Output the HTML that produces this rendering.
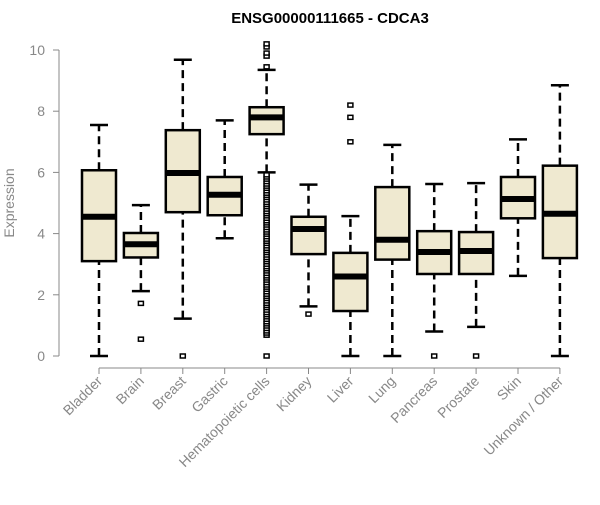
<!DOCTYPE html>
<html><head><meta charset="utf-8"><style>body{margin:0;background:#fff}svg{font-family:"Liberation Sans",Arial,sans-serif}</style></head>
<body>
<svg id="chart" width="600" height="500" xmlns="http://www.w3.org/2000/svg">
<text x="330" y="23" text-anchor="middle" font-size="15" font-weight="bold">ENSG00000111665 - CDCA3</text>
<text transform="translate(14,203) rotate(-90)" text-anchor="middle" font-size="14" fill="#888">Expression</text>
<g id="axes"></g><g id="boxes"></g>
</svg>
<script>
const categories=["Bladder","Brain","Breast","Gastric","Hematopoietic cells","Kidney","Liver","Lung","Pancreas","Prostate","Skin","Unknown / Other"];
const whiskerLow=[0,2.12,1.22,3.85,6.0,1.62,0,0,0.8,0.95,2.62,0];
const q1=[3.1,3.22,4.7,4.6,7.25,3.33,1.47,3.15,2.68,2.68,4.5,3.2];
const medians=[4.55,3.65,5.98,5.27,7.8,4.15,2.6,3.8,3.4,3.43,5.13,4.65];
const q3=[6.07,4.02,7.38,5.85,8.13,4.55,3.37,5.52,4.08,4.05,5.85,6.22];
const whiskerHigh=[7.55,4.93,9.68,7.7,9.35,5.6,4.57,6.9,5.62,5.65,7.08,8.85];
const outliers=[[],[1.72,0.55],[0],[],[0,0.68,0.75,0.82,0.9,0.98,1.05,1.12,1.2,1.28,1.35,1.42,1.5,1.58,1.65,1.72,1.8,1.88,1.95,2.02,2.1,2.18,2.25,2.32,2.4,2.48,2.55,2.62,2.7,2.78,2.85,2.92,3.0,3.08,3.15,3.22,3.3,3.38,3.45,3.52,3.6,3.68,3.75,3.82,3.9,3.98,4.05,4.12,4.2,4.28,4.35,4.42,4.5,4.58,4.65,4.72,4.8,4.88,4.95,5.02,5.1,5.18,5.25,5.32,5.4,5.48,5.55,5.62,5.7,5.78,5.85,5.92,9.45,9.8,9.9,10.1,10.2],[1.37],[7.0,7.8,8.2],[],[0],[0],[],[]];
const yTicks=[0,2,4,6,8,10];
const NS="http://www.w3.org/2000/svg";
const y=v=>356-v*30.6;
const x=i=>99+i*41.9;
function mk(t,a,p){const e=document.createElementNS(NS,t);for(const k in a)e.setAttribute(k,a[k]);p.appendChild(e);return e;}
const ax=document.getElementById('axes'),bx=document.getElementById('boxes');
const yl=mk('line',{x1:59,x2:59,y1:y(0),y2:y(10),stroke:'#888'},ax);

yTicks.forEach(t=>{
 const l=mk('line',{x1:53,x2:59,y1:y(t),y2:y(t),stroke:'#888'},ax);
 
 const tx=mk('text',{x:45,y:y(t)+5,'text-anchor':'end','font-size':14,fill:'#888'},ax);tx.textContent=t;
 
});
const xl=mk('line',{x1:x(0),x2:x(categories.length-1),y1:368,y2:368,stroke:'#888'},ax);

categories.forEach((c,i)=>{
 const cx=x(i);
 const l=mk('line',{x1:cx,x2:cx,y1:368,y2:374,stroke:'#888'},ax);
 
 const tx=mk('text',{x:cx+4,y:382,'text-anchor':'end','font-size':14,fill:'#888',transform:`rotate(-45 ${cx+4} 382)`},ax);tx.textContent=c;
 
 const g=mk('g',{},bx);
 
 mk('line',{x1:cx,x2:cx,y1:y(whiskerLow[i]),y2:y(q1[i]),stroke:'#000','stroke-width':2.5,'stroke-dasharray':'8,5'},g);
 mk('line',{x1:cx,x2:cx,y1:y(q3[i]),y2:y(whiskerHigh[i]),stroke:'#000','stroke-width':2.5,'stroke-dasharray':'8,5'},g);
 mk('line',{x1:cx-9,x2:cx+9,y1:y(whiskerLow[i]),y2:y(whiskerLow[i]),stroke:'#000','stroke-width':2.5},g);
 mk('line',{x1:cx-9,x2:cx+9,y1:y(whiskerHigh[i]),y2:y(whiskerHigh[i]),stroke:'#000','stroke-width':2.5},g);
 mk('rect',{x:cx-17,y:y(q3[i]),width:34,height:y(q1[i])-y(q3[i]),fill:'#efe9d0',stroke:'#000','stroke-width':2.5},g);
 mk('line',{x1:cx-17,x2:cx+17,y1:y(medians[i]),y2:y(medians[i]),stroke:'#000','stroke-width':6},g);
 outliers[i].forEach(o=>{mk('rect',{x:cx-2.5,y:y(o)-2,width:5,height:4,fill:'#fff',stroke:'#000','stroke-width':1.5},g);});
});
</script>
</body></html>
